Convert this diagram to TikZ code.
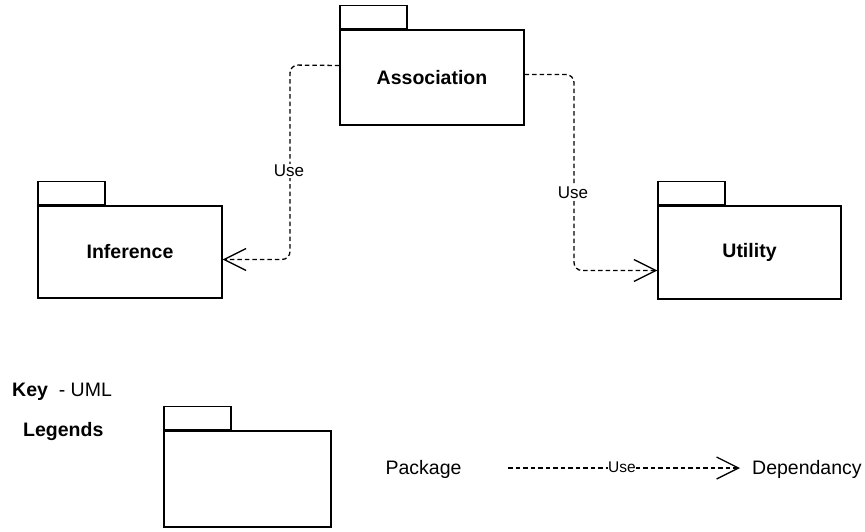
\documentclass[tikz,border=0pt]{standalone}
\usepackage{fontspec}
\setmainfont{Liberation Sans}
\usetikzlibrary{arrows.meta}
\tikzset{
  pkgbody/.style={draw, line width=1.3pt, minimum width=#1, inner sep=0pt,
                  font=\fontsize{19.5}{22}\selectfont\bfseries},
  pkgtab/.style={draw, line width=1.3pt, minimum width=67pt, minimum height=23pt,
                 anchor=south west, inner sep=0pt},
  dep/.style={line width=1.3pt, dash pattern=on 4.5pt off 3pt, rounded corners=8pt},
  openhead/.style={-{Straight Barb[length=22pt,width=22pt,line width=1.3pt]}},
  lbl/.style={fill=white, inner sep=1pt, font=\fontsize{17}{19}\selectfont},
  plain/.style={font=\fontsize{19.5}{22}\selectfont, inner sep=0pt},
}
\begin{document}
\begin{tikzpicture}[x=1pt,y=-1pt]
\useasboundingbox (0,0) rectangle (865,531);

% packages: body with a small tab on its top left corner
\node[pkgbody=184pt, minimum height=95pt] (assoc) at (432,77.5) {Association};
\node[pkgtab] (assoc-tab) at (assoc.north west) {};

\node[pkgbody=184pt, minimum height=92pt] (inf) at (130,252) {Inference};
\node[pkgtab] (inf-tab) at (inf.north west) {};

\node[pkgbody=183pt, minimum height=93pt] (util) at (749.5,252.5) {Utility};
\node[pkgtab] (util-tab) at (util.north west) {};

% dependencies
\draw[dep, openhead] ([yshift=12pt]assoc.west) -- (290,65) -- (290,259.5)
  -- (inf.east |- 0,259.5);
\node[lbl] (use-inf) at (289,171) {Use};

\draw[dep, openhead] ([yshift=3pt]assoc.east) -- (574,74.5) -- (574,270.5)
  -- (util.west |- 0,270.5);
\node[lbl] (use-util) at (573,193) {Use};

% key
\node[plain, anchor=west] (key) at (12,392) {\textbf{Key}\ \ - UML};
\node[plain, anchor=west, font=\fontsize{19.5}{22}\selectfont\bfseries] (legends) at (23,431) {Legends};

\node[pkgbody=167pt, minimum height=96pt] (legpkg) at (247.5,479) {};
\node[pkgtab] (legpkg-tab) at (legpkg.north west) {};

\node[plain] (pkg-txt) at (423.5,469) {Package};
\coordinate (dep-start) at (508,468);
\coordinate (dep-end) at (740,468);
\draw[dep, openhead] (dep-start) -- (dep-end);
\node[lbl, inner sep=0.5pt, font=\fontsize{15.5}{17}\selectfont] (use-leg) at (622,467) {Use};
\node[plain, anchor=west] (dep-txt) at (752,469) {Dependancy};
\end{tikzpicture}
\end{document}
